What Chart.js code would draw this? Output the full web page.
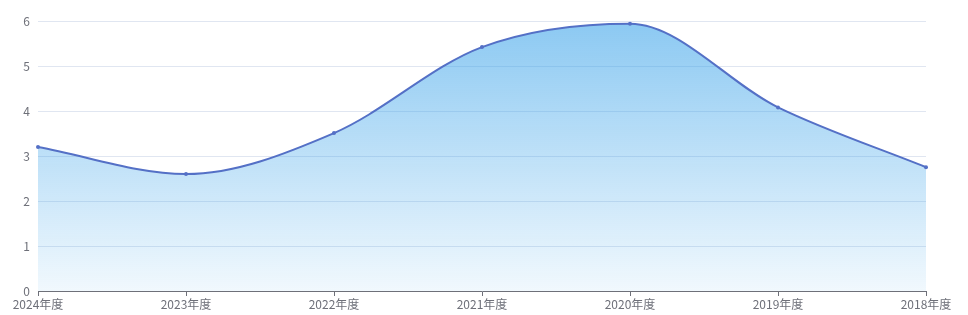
<!DOCTYPE html>
<html>
<head>
<meta charset="utf-8">
<script src="https://cdnjs.cloudflare.com/ajax/libs/Chart.js/4.4.0/chart.umd.min.js"></script>
<style>
  html, body { margin: 0; padding: 0; background: #fff; }
  #wrap { width: 968px; height: 315px; position: relative; }
</style>
</head>
<body>
<div id="wrap"><canvas id="trendChart"></canvas></div>
<script>
const years = ["2024年度", "2023年度", "2022年度", "2021年度", "2020年度", "2019年度", "2018年度"];
const values = [3.2, 2.6, 3.51, 5.42, 5.94, 4.08, 2.75];
const yTicks = [0, 1, 2, 3, 4, 5, 6];

const axisGray = "#6E7079";
const fontFamily = "'Noto Sans CJK SC', 'Microsoft YaHei', sans-serif";

const ctx = document.getElementById("trendChart").getContext("2d");

new Chart(ctx, {
  type: "line",
  data: {
    labels: years,
    datasets: [
      {
        data: values,
        borderColor: "#5470c6",
        borderWidth: 2,
        pointRadius: 2,
        pointBackgroundColor: "#5470c6",
        pointBorderWidth: 0,
        cubicInterpolationMode: "monotone",
        fill: "origin",
        backgroundColor: function (context) {
          const area = context.chart.chartArea;
          if (!area) return "rgba(57,162,233,0.5)";
          const yTop = context.chart.scales.y.getPixelForValue(Math.max(...values));
          const g = context.chart.ctx.createLinearGradient(0, yTop, 0, area.bottom);
          g.addColorStop(0, "rgba(57,162,233,0.58)");
          g.addColorStop(1, "rgba(57,162,233,0.07)");
          return g;
        },
      },
    ],
  },
  options: {
    responsive: true,
    maintainAspectRatio: false,
    animation: false,
    layout: { padding: { top: 21, right: 42, left: 0, bottom: 0 } },
    plugins: {
      legend: { display: false },
      tooltip: { enabled: false },
    },
    scales: {
      x: {
        offset: false,
        grid: {
          display: true,
          drawOnChartArea: false,
          drawTicks: true,
          tickLength: 5,
          color: axisGray,
        },
        border: { display: true, color: axisGray, width: 1 },
        ticks: {
          color: axisGray,
          padding: 1,
          maxRotation: 0,
          autoSkip: false,
          font: { family: fontFamily, size: 12 },
        },
        afterFit: function (scale) { scale.height = 24; },
      },
      y: {
        min: yTicks[0],
        max: yTicks[yTicks.length - 1],
        afterBuildTicks: function (scale) {
          scale.ticks = yTicks.map(function (v) { return { value: v }; });
        },
        grid: {
          color: "#E0E6F1",
          drawTicks: false,
        },
        border: { display: false },
        ticks: {
          color: axisGray,
          padding: 8,
          font: { family: fontFamily, size: 12 },
        },
        afterFit: function (scale) { scale.width = 38; },
      },
    },
  },
});
</script>
</body>
</html>
